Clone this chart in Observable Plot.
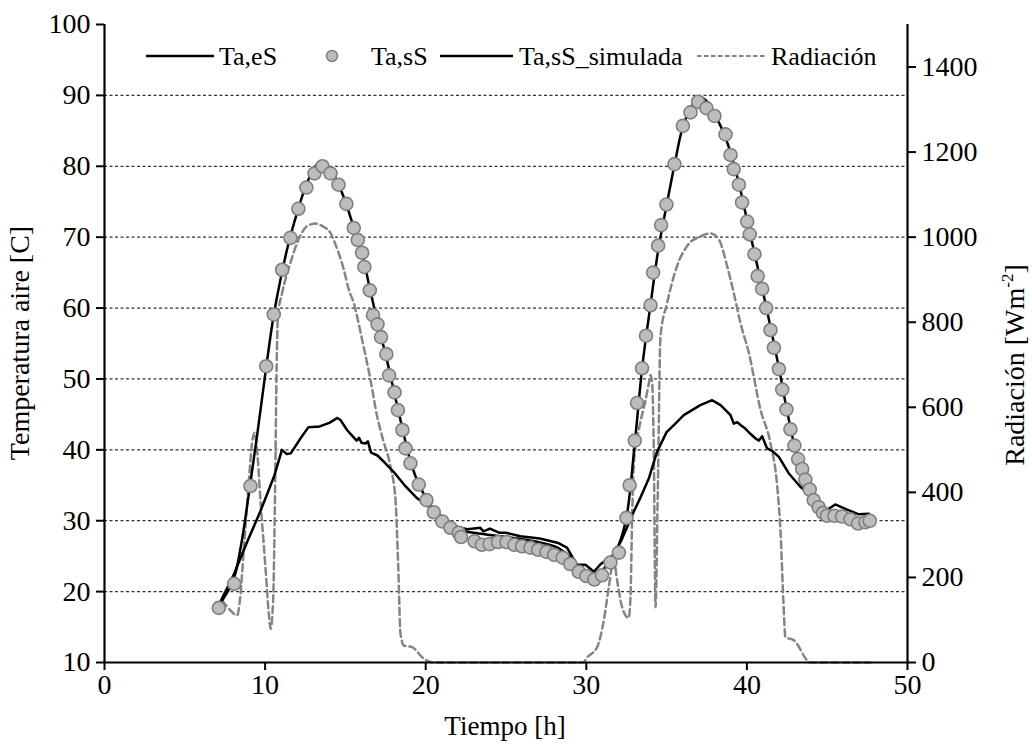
<!DOCTYPE html>
<html><head><meta charset="utf-8">
<script src="https://cdn.jsdelivr.net/npm/d3@7"></script>
<script src="https://cdn.jsdelivr.net/npm/@observablehq/plot@0.6"></script>
<style>body{margin:0;background:#fff;} #chart{width:1032px;height:744px;}</style>
</head><body><div id="chart"></div>
<script>
// ---- Data ----
// Ta,eS (entrance air temperature, black line)
const tEntrada = [7.2,8.05,8.9,9.7,10.55,11.05,11.35,11.6,12.2,12.7,13.4,14.0,14.5,14.7,15.1,15.5,15.7,15.85,16.0,16.25,16.4,16.6,17.0,17.4,18.0,18.65,19.45,20.3,21.0,21.55,22.0,22.6,23.0,23.4,23.6,24.0,24.6,25.0,25.9,27.1,28.2,28.8,29.1,29.4,29.95,30.47,30.9,31.7,32.2,32.96,33.4,33.9,34.4,35.0,35.5,36.07,37.1,37.84,38.36,38.98,39.18,39.4,39.6,39.9,40.2,40.54,40.75,40.95,41.26,41.6,41.99,42.6,43.33,43.95,44.6,45.1,45.5,46.2,46.97,47.6];
const taEntrada = [18.5,22.4,27.1,31.3,36.2,40.0,39.4,39.5,41.6,43.2,43.3,43.8,44.5,44.2,42.8,41.8,41.3,41.7,41.0,40.9,41.2,39.6,39.2,38.3,36.9,35.1,33.2,31.8,30.6,29.7,29.1,28.8,28.9,29.0,28.5,28.9,28.3,28.3,27.8,27.5,26.9,26.2,25.0,23.8,23.8,22.8,23.9,25.2,27.3,31.3,33.4,36.0,39.7,42.5,43.6,44.9,46.3,47.0,46.3,44.9,43.7,43.9,43.5,43.0,42.3,41.6,41.3,41.9,40.2,39.8,39.0,36.7,34.8,33.6,31.6,31.7,32.3,31.6,30.9,31.0];

// Ta,sS (measured outlet air temperature, grey circles)
const tSalida = [7.12,8.07,9.09,10.07,10.54,11.06,11.58,12.07,12.57,13.08,13.57,14.07,14.57,15.06,15.52,15.77,16.04,16.18,16.52,16.72,17.0,17.22,17.55,17.72,18.06,18.27,18.55,18.74,19.05,19.57,20.05,20.5,21.03,21.54,22.06,22.2,23.04,23.5,23.98,24.5,25.03,25.52,26.0,26.52,27.0,27.52,28.0,28.53,29.0,29.53,30.0,30.5,30.98,31.5,32.03,32.5,32.7,33.02,33.16,33.47,33.72,34.0,34.16,34.47,34.66,34.99,35.49,36.01,36.49,36.96,37.48,37.98,38.67,38.98,39.18,39.5,39.7,40.02,40.18,40.47,40.67,40.95,41.2,41.47,41.68,41.99,42.2,42.46,42.71,42.96,43.19,43.44,43.64,43.91,44.16,44.47,44.74,44.99,45.45,45.93,46.45,46.92,47.38,47.65];
const taSalida = [17.7,21.1,34.9,51.8,59.1,65.4,69.9,74.0,77.0,79.0,80.0,79.0,77.4,74.7,71.3,69.6,67.8,65.8,62.5,59.0,57.7,55.9,53.5,50.5,48.1,45.6,42.8,40.2,38.1,35.1,32.9,31.2,29.9,29.0,28.3,27.7,27.1,26.6,26.7,27.0,27.0,26.6,26.4,26.2,25.9,25.6,25.2,24.8,23.9,22.8,22.2,21.7,22.3,24.1,25.5,30.4,35.0,41.3,46.6,51.5,56.1,60.4,65.0,68.8,71.7,74.6,80.3,85.7,87.6,89.1,88.2,87.1,84.5,81.6,79.6,77.4,74.9,72.2,70.4,67.6,64.5,62.7,60.0,56.9,54.4,51.4,48.5,45.7,42.9,40.6,38.7,37.3,35.8,34.4,32.9,31.9,31.1,30.7,30.7,30.6,30.2,29.6,29.8,30.0];

// Ta,sS_simulada (simulated outlet air temperature, black line)
const tSimulada = [7.1,8.0,8.5,9.0,9.5,10.0,10.5,11.0,11.5,12.0,12.5,13.0,13.5,14.0,14.5,15.0,15.5,16.0,16.5,17.0,17.5,18.0,18.5,19.0,19.5,20.0,20.5,21.0,21.5,22.0,23.0,24.0,25.0,26.0,27.0,28.0,28.5,29.0,29.5,30.0,30.5,31.0,31.5,32.0,32.5,33.0,33.5,34.0,34.5,35.0,35.5,36.0,36.5,37.0,37.5,38.0,38.5,39.0,39.5,40.0,40.5,41.0,41.5,42.0,42.5,43.0,43.5,44.0,44.5,45.0,45.5,46.0,46.5,47.0,47.6];
const taSimulada = [18.0,21.5,26.5,34.0,42.0,50.5,58.5,64.5,69.5,73.5,77.0,79.5,80.7,79.8,77.8,75.0,71.5,68.0,63.0,58.0,53.5,48.5,43.5,38.8,35.5,33.3,31.5,30.2,29.3,28.7,28.3,28.0,27.7,27.4,27.0,26.4,25.8,24.9,23.6,22.8,22.3,23.0,24.5,26.5,30.5,40.5,52.0,60.5,68.5,74.5,80.3,85.5,88.2,89.8,89.2,87.3,85.0,81.8,77.6,72.5,67.5,62.3,57.0,51.5,45.5,40.3,37.0,34.0,31.7,31.0,31.0,30.8,30.4,30.0,30.3];

// Radiación (W m-2, grey dashed line, right axis)
const tRad = [7.33,7.85,8.26,8.43,8.67,8.98,9.2,9.34,9.5,9.71,10.02,10.23,10.34,10.5,10.62,10.72,10.8,11.06,11.58,12.0,12.62,13.14,13.6,14.07,14.38,14.9,15.21,15.52,16.04,16.56,16.98,17.35,17.81,18.12,18.29,18.43,18.64,19.16,19.88,20.5,25.0,29.8,30.05,30.67,31.09,31.4,31.71,31.92,32.23,32.64,32.75,32.86,32.96,33.27,33.69,33.9,34.0,34.1,34.2,34.31,34.45,34.62,35.03,35.65,36.27,37.1,37.73,38.25,38.77,39.18,39.6,40.12,40.85,41.47,41.89,42.1,42.27,42.4,42.93,43.96,46.0,47.7];
const radiacion = [146,122,111,146,264,421,520,540,500,382,225,115,79,146,400,700,815,869,940,987,1026,1032,1025,1010,983,924,877,845,759,665,578,523,460,382,225,68,40,36,9,0,0,0,12,36,99,177,240,193,130,105,154,350,468,547,617,657,676,657,507,130,400,767,845,932,979,1002,1009,995,932,869,798,728,594,515,413,303,146,60,52,0,0,0];

// Axis ticks
const xTicks = [0,10,20,30,40,50];
const yTicks = [10,20,30,40,50,60,70,80,90,100];
const gridTicks = [20,30,40,50,60,70,80,90];
const radTicks = [0,200,400,600,800,1000,1200,1400];

// Legend labels
const legendLabels = ["Ta,eS","Ta,sS","Ta,sS_simulada","Radiación"];

// ---- Build ----
const W = 1032, H = 744;
const yMin = 10, yMax = 100, radMax = 1500;
const radToY = r => yMin + r * (yMax - yMin) / radMax;
const yToRad = v => Math.round((v - yMin) * radMax / (yMax - yMin));

const entrada = tEntrada.map((t, i) => ({t, v: taEntrada[i]}));
const salida = tSalida.map((t, i) => ({t, v: taSalida[i]}));
const simulada = tSimulada.map((t, i) => ({t, v: taSimulada[i]}));
const rad = tRad.map((t, i) => ({t, r: radiacion[i]}));

const FONT = "'Liberation Serif', 'Times New Roman', serif";
const TICKFS = 28;

const plot = Plot.plot({
  width: W, height: H,
  marginLeft: 104, marginRight: 125, marginTop: 24, marginBottom: 82,
  style: {fontFamily: FONT, fontSize: TICKFS + "px", color: "#000", background: "#fff"},
  x: {domain: [0, 50]},
  y: {domain: [yMin, yMax]},
  marks: [
    Plot.gridY(gridTicks, {stroke: "#333", strokeOpacity: 1, strokeWidth: 1.2, strokeDasharray: "3,2.5"}),
    Plot.line(rad, {x: "t", y: d => radToY(d.r), stroke: "#858585", strokeWidth: 2.5, strokeDasharray: "7,4", curve: "monotone-x"}),
    Plot.line(entrada, {x: "t", y: "v", stroke: "#000", strokeWidth: 2.5}),
    Plot.line(simulada, {x: "t", y: "v", stroke: "#000", strokeWidth: 2.5, curve: "catmull-rom"}),
    Plot.dot(salida, {x: "t", y: "v", r: 6.5, fill: "#bdbdbd", stroke: "#7f7f7f", strokeWidth: 1.6}),
    Plot.ruleX([0, 50], {stroke: "#000", strokeWidth: 2.2}),
    Plot.ruleY([yMin], {stroke: "#000", strokeWidth: 2.2}),
    Plot.axisY(yTicks, {anchor: "left", tickSize: 8, tickPadding: 6, label: null, strokeWidth: 2, fontSize: TICKFS, tickFormat: d => String(d)}),
    Plot.axisY(radTicks.map(radToY), {anchor: "right", tickSize: 8, tickPadding: 6, label: null, strokeWidth: 2, fontSize: TICKFS, tickFormat: d => String(yToRad(d))}),
    Plot.axisX(xTicks, {anchor: "bottom", tickSize: 8, tickPadding: 4, label: null, strokeWidth: 2, fontSize: TICKFS, tickFormat: d => String(d)})
  ]
});

document.getElementById("chart").appendChild(plot);

const svg = d3.select(plot);
// Axis titles
svg.append("text").attr("x", 505).attr("y", 735).attr("text-anchor", "middle")
  .style("font-family", FONT).style("font-size", "27px").text("Tiempo [h]");
svg.append("text").attr("transform", "translate(29,343) rotate(-90)").attr("text-anchor", "middle")
  .style("font-family", FONT).style("font-size", "28px").text("Temperatura aire [C]");
const rl = svg.append("text").attr("transform", "translate(1024,365) rotate(-90)").attr("text-anchor", "middle")
  .style("font-family", FONT).style("font-size", "28px");
rl.append("tspan").text("Radiación [Wm");
rl.append("tspan").style("font-size", "17px").attr("dy", -11).text("-2");
rl.append("tspan").attr("dy", 11).text("]");

// Legend
const lg = svg.append("g").style("font-family", FONT).style("font-size", "26px").attr("text-anchor", "start");
const ly = 56;
lg.append("line").attr("x1", 146).attr("x2", 214).attr("y1", ly).attr("y2", ly).attr("stroke", "#000").attr("stroke-width", 2.5);
lg.append("text").attr("x", 219).attr("y", ly + 9).text(legendLabels[0]);
lg.append("circle").attr("cx", 332).attr("cy", ly).attr("r", 5.5).attr("fill", "#bdbdbd").attr("stroke", "#7f7f7f").attr("stroke-width", 1.5);
lg.append("text").attr("x", 371).attr("y", ly + 9).text(legendLabels[1]);
lg.append("line").attr("x1", 440).attr("x2", 513).attr("y1", ly).attr("y2", ly).attr("stroke", "#000").attr("stroke-width", 2.5);
lg.append("text").attr("x", 519).attr("y", ly + 9).text(legendLabels[2]);
lg.append("line").attr("x1", 697).attr("x2", 766).attr("y1", ly).attr("y2", ly).attr("stroke", "#858585").attr("stroke-width", 2).attr("stroke-dasharray", "4.5,2.5");
lg.append("text").attr("x", 771).attr("y", ly + 9).text(legendLabels[3]);
</script>
</body></html>
